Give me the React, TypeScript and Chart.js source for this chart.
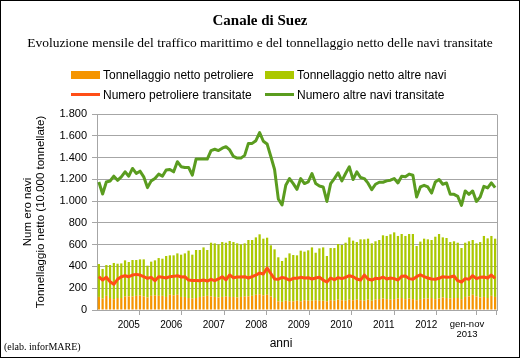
import React, { useEffect, useRef } from 'react';
import { Chart, registerables } from 'chart.js';

Chart.register(...registerables);
Chart.defaults.font.family = '"Liberation Sans", Arial, sans-serif';

// ---------- texts ----------
const TITLE = 'Canale di Suez';
const SUBTITLE = 'Evoluzione mensile del traffico marittimo e del tonnellaggio netto delle navi transitate';
const SOURCE = '(elab. inforMARE)';
const X_TITLE = 'anni';
const Y_TITLE = ['Num ero navi', 'Tonnellaggio netto (10.000 tonnellate)'];

// ---------- categories ----------
const YEARS = ['2005', '2006', '2007', '2008', '2009', '2010', '2011', '2012', '2013'];
const MONTHS = ['gen', 'feb', 'mar', 'apr', 'mag', 'giu', 'lug', 'ago', 'set', 'ott', 'nov', 'dic'];
const MONTHS_IN_LAST_YEAR = 11;
const YEAR_LABELS: (string | string[])[] = ['2005', '2006', '2007', '2008', '2009', '2010', '2011', '2012', ['gen-nov', '2013']];

// ---------- series (monthly, gen 2005 - nov 2013) ----------
const TON_PETROLIERE = [
  120, 105, 130, 110, 100, 110, 110, 125, 125, 125, 130, 135,
  125, 115, 130, 135, 130, 130, 120, 140, 135, 140, 120, 120,
  110, 105, 110, 120, 125, 130, 125, 120, 115, 120, 125, 120,
  120, 115, 120, 125, 125, 130, 140, 145, 135, 140, 125, 110,
  80, 75, 85, 80, 80, 85, 80, 90, 85, 85, 90, 85,
  85, 80, 90, 85, 95, 90, 85, 95, 90, 95, 90, 85,
  95, 85, 95, 100, 105, 100, 95, 100, 105, 110, 100, 105,
  100, 90, 100, 105, 105, 110, 100, 105, 115, 110, 105, 110,
  110, 100, 120, 125, 140, 125, 115, 120, 110, 130, 120,
];
const TON_ALTRE = [
  302, 272, 283, 303, 332, 315, 318, 331, 316, 334, 329, 330,
  340, 292, 314, 321, 347, 341, 376, 362, 367, 380, 388, 400,
  435, 403, 441, 431, 450, 421, 493, 492, 488, 504, 493, 514,
  504, 497, 483, 487, 518, 513, 527, 550, 520, 524, 469, 447,
  404, 375, 395, 440, 425, 417, 465, 446, 463, 490, 436, 481,
  490, 416, 479, 484, 511, 507, 533, 572, 547, 529, 559, 564,
  560, 527, 536, 543, 581, 580, 600, 613, 575, 588, 580, 593,
  598, 498, 528, 550, 544, 533, 573, 593, 552, 551, 519, 521,
  508, 469, 498, 506, 503, 487, 509, 560, 548, 550, 535,
];
const NUM_PETROLIERE = [
  306, 275, 300, 260, 236, 282, 306, 315, 306, 321, 327, 321,
  306, 291, 300, 269, 306, 300, 294, 306, 309, 315, 303, 306,
  275, 272, 272, 269, 275, 266, 282, 269, 285, 306, 278, 321,
  297, 303, 303, 306, 294, 306, 320, 340, 330, 385, 335, 285,
  282, 300, 291, 275, 291, 291, 300, 294, 297, 285, 294, 300,
  275, 257, 294, 278, 297, 288, 300, 315, 306, 285, 275, 321,
  285, 275, 291, 288, 303, 285, 294, 288, 275, 309, 312, 288,
  282, 306, 324, 306, 294, 285, 282, 291, 306, 300, 303, 312,
  269, 257, 288, 282, 315, 288, 300, 303, 294, 321, 291,
];
const NUM_ALTRE = [
  1175, 1065, 1175, 1185, 1229, 1191, 1223, 1269, 1229, 1300, 1254, 1275,
  1223, 1124, 1186, 1207, 1248, 1229, 1285, 1291, 1269, 1362, 1316, 1309,
  1309, 1238, 1386, 1386, 1386, 1386, 1464, 1476, 1464, 1486, 1500, 1470,
  1410, 1395, 1395, 1420, 1530, 1530, 1555, 1630, 1550, 1525, 1410, 1290,
  1020, 965, 1145, 1207, 1161, 1108, 1207, 1161, 1176, 1253, 1161, 1139,
  1130, 997, 1161, 1207, 1260, 1186, 1254, 1315, 1198, 1269, 1217, 1207,
  1165, 1105, 1155, 1173, 1173, 1186, 1192, 1207, 1167, 1229, 1223, 1248,
  1238, 1037, 1130, 1145, 1130, 1074, 1176, 1198, 1155, 1167, 1062, 1062,
  1043, 960, 1093, 1062, 1093, 997, 1037, 1136, 1121, 1167, 1124,
];

const SERIES_LABELS = [
  'Tonnellaggio netto petroliere',
  'Tonnellaggio netto altre navi',
  'Numero petroliere transitate',
  'Numero altre navi transitate',
];

const Y_MIN = 0;
const Y_MAX = 1800;
const Y_STEP = 200;

// ---------- styles ----------
const C_ORANGE_BAR = '#F59500';
const C_GREEN_BAR = '#ABC800';
const C_ORANGE_LINE = '#FF4E17';
const C_GREEN_LINE = '#5A9C1F';
const C_GRID = '#A6A6A6';
const SANS = '"Liberation Sans", Arial, sans-serif';
const SERIF = '"Liberation Serif", "Times New Roman", serif';

// categories built from years x months
const CATEGORIES: string[] = [];
YEARS.forEach((y, yi) => {
  const n = yi === YEARS.length - 1 ? MONTHS_IN_LAST_YEAR : MONTHS.length;
  for (let m = 0; m < n; m++) CATEGORIES.push(MONTHS[m] + ' ' + y);
});

type YT = { value: number; label: string | string[]; boundary: boolean };
const YEAR_TICKS: YT[] = [];
{
  let start = 0;
  YEARS.forEach((y, i) => {
    const n = i === YEARS.length - 1 ? MONTHS_IN_LAST_YEAR : MONTHS.length;
    YEAR_TICKS.push({ value: start, label: '', boundary: true });
    YEAR_TICKS.push({ value: start + n / 2, label: YEAR_LABELS[i], boundary: false });
    start += n;
  });
  YEAR_TICKS.push({ value: start, label: '', boundary: true });
}

const fmtIt = (v: number) => String(v).replace(/\B(?=(\d{3})+(?!\d))/g, '.');

const decor = {
  id: 'decor',
  beforeDraw(chart: any) {
    const ctx = chart.ctx;
    ctx.save();
    ctx.fillStyle = '#ffffff';
    ctx.fillRect(0, 0, chart.width, chart.height);
    ctx.restore();
  },
  beforeDatasetsDraw(chart: any) {
    const { ctx, chartArea: a } = chart;
    ctx.save();
    ctx.strokeStyle = C_GRID;
    ctx.lineWidth = 1;
    ctx.beginPath();
    const x = Math.round(a.right) + 0.5;
    ctx.moveTo(x, Math.round(a.top) + 0.5);
    ctx.lineTo(x, Math.round(a.bottom) + 0.5);
    ctx.stroke();
    ctx.restore();
  },
  afterDraw(chart: any) {
    const ctx = chart.ctx;
    ctx.save();
    ctx.fillStyle = '#000';
    ctx.textAlign = 'center';
    ctx.textBaseline = 'alphabetic';
    ctx.font = 'bold 15px ' + SERIF;
    ctx.fillText(TITLE, 260, 25);
    ctx.font = '13.5px ' + SERIF;
    ctx.fillText(SUBTITLE, 260, 47);

    // legend
    ctx.textAlign = 'left';
    ctx.font = '12px ' + SANS;
    const cols = [71, 265];
    const rows = [78.5, 98.5];
    ctx.fillStyle = C_ORANGE_BAR;
    ctx.fillRect(cols[0], 71, 29, 8);
    ctx.fillStyle = C_GREEN_BAR;
    ctx.fillRect(cols[1], 71, 29, 8);
    ctx.fillStyle = C_ORANGE_LINE;
    ctx.fillRect(cols[0], 93, 29, 3);
    ctx.fillStyle = C_GREEN_LINE;
    ctx.fillRect(cols[1], 93, 29, 3);
    ctx.fillStyle = '#000';
    ctx.fillText(SERIES_LABELS[0], cols[0] + 32, rows[0]);
    ctx.fillText(SERIES_LABELS[1], cols[1] + 32, rows[0]);
    ctx.fillText(SERIES_LABELS[2], cols[0] + 32, rows[1]);
    ctx.fillText(SERIES_LABELS[3], cols[1] + 32, rows[1]);

    // x title
    ctx.textAlign = 'center';
    ctx.font = '12px ' + SANS;
    ctx.fillText(X_TITLE, 281, 347);

    // source
    ctx.textAlign = 'left';
    ctx.font = '10px ' + SERIF;
    ctx.fillText(SOURCE, 4, 350);

    // outer border
    ctx.strokeStyle = '#000';
    ctx.lineWidth = 1;
    ctx.strokeRect(0.5, 0.5, 519, 357);
    ctx.restore();
  },
};

export default function App() {
  const ref = useRef<HTMLCanvasElement | null>(null);

  useEffect(() => {
    const canvas = ref.current;
    if (!canvas) return;
    const N = CATEGORIES.length;
    const chart = new Chart(canvas, {
      type: 'bar',
      data: {
        labels: CATEGORIES,
        datasets: [
          {
            type: 'bar',
            label: SERIES_LABELS[0],
            data: TON_PETROLIERE,
            backgroundColor: C_ORANGE_BAR,
            stack: 'ton',
            order: 2,
            xAxisID: 'x',
            yAxisID: 'y',
            barPercentage: 0.6,
            categoryPercentage: 1,
          },
          {
            type: 'bar',
            label: SERIES_LABELS[1],
            data: TON_ALTRE,
            backgroundColor: C_GREEN_BAR,
            stack: 'ton',
            order: 2,
            xAxisID: 'x',
            yAxisID: 'y',
            barPercentage: 0.6,
            categoryPercentage: 1,
          },
          {
            type: 'line',
            label: SERIES_LABELS[2],
            data: NUM_PETROLIERE,
            borderColor: C_ORANGE_LINE,
            backgroundColor: C_ORANGE_LINE,
            borderWidth: 3,
            pointRadius: 0,
            tension: 0,
            borderJoinStyle: 'round',
            fill: false,
            stack: 'l1',
            order: 1,
            xAxisID: 'x',
            yAxisID: 'y',
          },
          {
            type: 'line',
            label: SERIES_LABELS[3],
            data: NUM_ALTRE,
            borderColor: C_GREEN_LINE,
            backgroundColor: C_GREEN_LINE,
            borderWidth: 3,
            pointRadius: 0,
            tension: 0,
            borderJoinStyle: 'round',
            fill: false,
            stack: 'l2',
            order: 0,
            xAxisID: 'x',
            yAxisID: 'y',
          },
        ] as any,
      },
      options: {
        responsive: false,
        animation: false,
        devicePixelRatio: 1,
        layout: { padding: { left: 0, right: 24, top: 114, bottom: 0 } },
        plugins: {
          legend: { display: false },
          tooltip: { enabled: false },
          title: { display: false },
        },
        scales: {
          x: {
            type: 'category',
            display: false,
            offset: true,
            stacked: true,
          },
          xYear: {
            type: 'linear',
            position: 'bottom',
            min: 0,
            max: N,
            afterBuildTicks: (scale: any) => {
              scale.ticks = YEAR_TICKS.map((t) => ({ value: t.value }));
            },
            afterFit: (scale: any) => {
              scale.height = 49;
            },
            grid: {
              drawOnChartArea: false,
              drawTicks: true,
              tickLength: 5,
              color: (ctx: any) => {
                const t = ctx.tick;
                if (!t) return C_GRID;
                const f = YEAR_TICKS.find((y) => y.value === t.value);
                return f && f.boundary ? C_GRID : 'rgba(0,0,0,0)';
              },
            },
            border: { display: true, color: C_GRID, width: 1 },
            ticks: {
              autoSkip: false,
              maxRotation: 0,
              minRotation: 0,
              padding: 4,
              color: '#000',
              font: (ctx: any) => {
                const t = ctx.tick;
                if (t && t.value === YEAR_TICKS[YEAR_TICKS.length - 2].value) {
                  return { size: 9.5, family: SANS, lineHeight: 1.05 };
                }
                return { size: 10, family: SANS };
              },
              callback: (_v: any, i: number) => {
                const t = YEAR_TICKS[i];
                return t ? t.label : '';
              },
            },
          },
          y: {
            type: 'linear',
            stacked: true,
            min: Y_MIN,
            max: Y_MAX,
            afterFit: (scale: any) => {
              scale.width = 97;
            },
            ticks: {
              stepSize: Y_STEP,
              padding: 5,
              color: '#000',
              font: { size: 11, family: SANS },
              callback: (v: any) => fmtIt(Number(v)),
            },
            grid: { color: C_GRID, tickLength: 5, drawTicks: true },
            border: { display: true, color: C_GRID, width: 1 },
            title: {
              display: true,
              text: Y_TITLE,
              color: '#000',
              font: { size: 11.5, family: SANS, lineHeight: 1.13 },
              padding: { top: 21.5, bottom: 0 },
            },
          },
        },
      } as any,
      plugins: [decor],
    });
    return () => chart.destroy();
  }, []);

  return (
    <div style={{ position: 'fixed', left: 0, top: 0, width: 521, height: 359, background: '#fff' }}>
      <canvas ref={ref} width={521} height={359} style={{ display: 'block', width: 521, height: 359 }} />
    </div>
  );
}
